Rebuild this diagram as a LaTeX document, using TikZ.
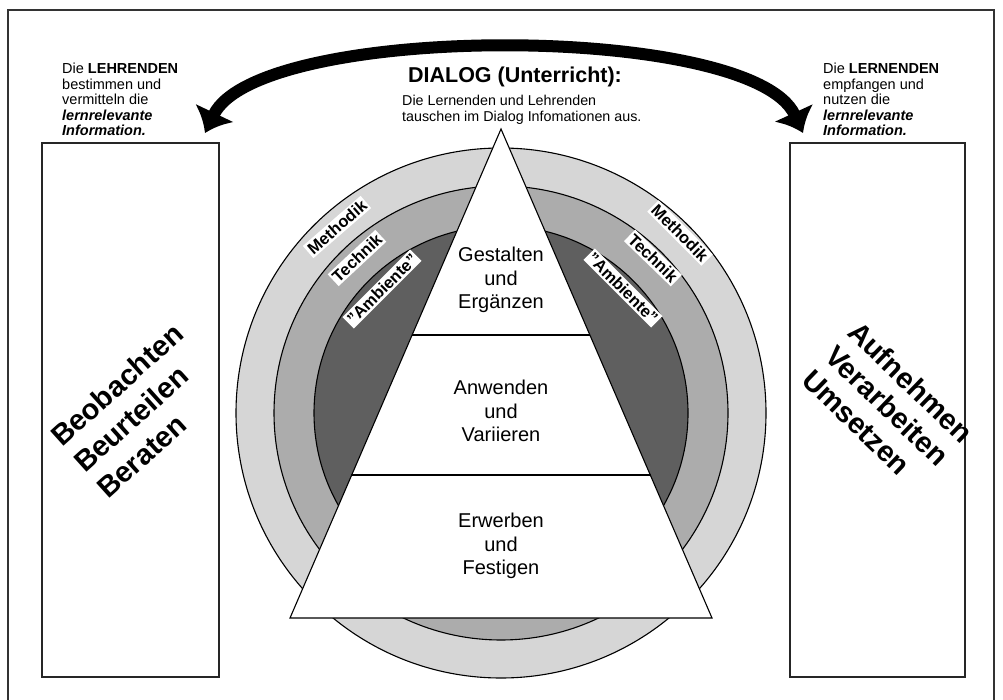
\documentclass[tikz,border=0pt]{standalone}
\usepackage{fontspec}
\setmainfont{Liberation Sans}
\usetikzlibrary{arrows.meta}
\definecolor{ringA}{RGB}{214,214,214}
\definecolor{ringB}{RGB}{172,172,172}
\definecolor{ringC}{RGB}{95,95,95}
\begin{document}
\begin{tikzpicture}[x=1pt,y=-1pt,
  frameline/.style={line width=1.4pt, draw=black!80},
  sidebox/.style={draw=black!85, line width=1.3pt, inner sep=0pt},
  ringline/.style={draw=black, line width=1.1pt},
  ringlabel/.style={fill=white, inner sep=2pt, font=\fontsize{16.5}{17}\selectfont\bfseries},
  bigword/.style={anchor=base west, inner sep=0pt, font=\fontsize{29}{34}\selectfont\bfseries},
  stagelabel/.style={align=center, font=\fontsize{20}{23.5}\selectfont},
  sidetext/.style={align=left, anchor=north west, inner sep=0pt, font=\fontsize{14.5}{15.5}\selectfont},
  bigarrow/.style={line width=12pt, {Latex[length=22pt,width=44pt]}-{Latex[length=22pt,width=44pt]}}
]
\useasboundingbox (0,0) rectangle (1003,700);
% outer frame
\draw[frameline] (8,700) -- (8,10) -- (994,10) -- (994,700);

% side boxes
\node[sidebox, minimum width=177pt, minimum height=534pt] (lbox) at (130.5,410) {};
\node[sidebox, minimum width=175pt, minimum height=534pt] (rbox) at (877.5,410) {};
\node[bigword, rotate=42] (lw1) at (62,448) {Beobachten};
\node[bigword, rotate=42] (lw2) at (85,474) {Beurteilen};
\node[bigword, rotate=42] (lw3) at (108,500) {Beraten};
\node[bigword, rotate=-44] (rw1) at (846,334) {Aufnehmen};
\node[bigword, rotate=-44] (rw2) at (823,358) {Verarbeiten};
\node[bigword, rotate=-44] (rw3) at (800,382) {Umsetzen};

% rings
\coordinate (C) at (501,413);
\draw[ringline, fill=ringA] (C) circle[radius=265];
\draw[ringline, fill=ringB] (C) circle[radius=227];
\draw[ringline, fill=ringC] (C) circle[radius=187];

% pyramid
\coordinate (T) at (501,129);
\coordinate (BL) at (290,618);
\coordinate (BR) at (712,618);
\coordinate (d1l) at (411.8,335);
\coordinate (d1r) at (590.2,335);
\coordinate (d2l) at (351.4,475);
\coordinate (d2r) at (650.6,475);
\draw[line width=1.1pt, fill=white, line join=miter] (T) -- (BL) -- (BR) -- cycle;
\draw[line width=1.1pt] (d1l) -- (d1r);
\draw[line width=1.1pt] (d2l) -- (d2r);
\node[stagelabel] (s1) at (501,280) {Gestalten\\und\\Ergänzen};
\node[stagelabel] (s2) at (501,411) {Anwenden\\und\\Variieren};
\node[stagelabel] (s3) at (501,546) {Erwerben\\und\\Festigen};

% ring labels
\node[ringlabel, rotate=41] (lm) at (337,227) {Methodik};
\node[ringlabel, rotate=43] (lt) at (357,258) {Technik};
\node[ringlabel, rotate=45] (la) at (382,289) {"Ambiente"};
\node[ringlabel, rotate=-45] (rm) at (680,233) {Methodik};
\node[ringlabel, rotate=-44] (rt) at (653,258) {Technik};
\node[ringlabel, rotate=-45] (ra) at (623,288) {"Ambiente"};

% dialog arrow
\coordinate (aL) at (205,133);
\coordinate (aR) at (803,133);
\draw[bigarrow] (aL) .. controls (258,22) and (752,22) .. (aR);

% texts
\node[anchor=base, inner sep=0pt, font=\fontsize{21.5}{24}\selectfont\bfseries] (title) at (515,83) {DIALOG (Unterricht):};
\node[anchor=north west, align=left, inner sep=0pt, font=\fontsize{14.3}{15.5}\selectfont] (sub) at (402,95) {Die Lernenden und Lehrenden\\tauschen im Dialog Infomationen aus.};
\node[sidetext] (ltext) at (62,63) {Die \textbf{LEHRENDEN}\\bestimmen und\\vermitteln die\\\textbf{\textit{lernrelevante}}\\\textbf{\textit{Information.}}};
\node[sidetext] (rtext) at (823,63) {Die \textbf{LERNENDEN}\\empfangen und\\nutzen die\\\textbf{\textit{lernrelevante}}\\\textbf{\textit{Information.}}};
\end{tikzpicture}
\end{document}
